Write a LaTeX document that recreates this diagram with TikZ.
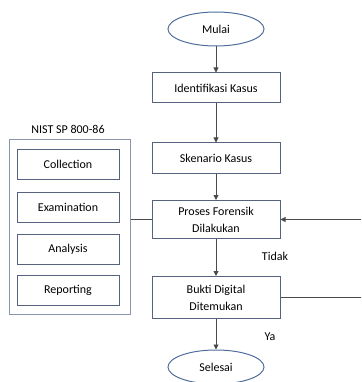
\documentclass[tikz,border=0pt]{standalone}
\usepackage{fontspec}
\setmainfont{Carlito}
\usetikzlibrary{arrows.meta,shapes.geometric}
\definecolor{boxline}{HTML}{56627E}
\definecolor{ovalline}{HTML}{4F6E9C}
\definecolor{groupline}{HTML}{8A95AD}
\definecolor{wire}{HTML}{4A4A4A}
\tikzset{
  txt/.style={font=\fontsize{12}{17}\selectfont},
  procbox/.style={txt, draw=boxline, line width=1pt, minimum width=128pt, minimum height=30pt, align=center, inner sep=1pt},
  stagebox/.style={txt, draw=boxline, line width=1pt, minimum width=102pt, minimum height=30pt},
  terminal/.style={txt, draw=ovalline, line width=1pt, ellipse, minimum width=96pt, minimum height=34pt, inner sep=1pt},
  flow/.style={draw=wire, line width=0.9pt, -{Triangle[length=5pt,width=5pt]}},
  link/.style={draw=wire, line width=0.9pt}
}
\begin{document}
\begin{tikzpicture}[x=1pt,y=-1pt]
\useasboundingbox (0,0) rectangle (361,382);
\clip (0,0) rectangle (361,382);
% main flow
\node[terminal] (mulai) at (216,29) {Mulai};
\node[procbox] (ident) at (216,88) {Identifikasi Kasus};
\node[procbox] (skenario) at (216,158) {Skenario Kasus};
\node[procbox, minimum height=38pt] (proses) at (216,219.5) {Proses Forensik\\Dilakukan};
\node[procbox, minimum height=42pt] (bukti) at (216,297.5) {Bukti Digital\\Ditemukan};
\node[terminal] (selesai) at (216,367) {Selesai};
% NIST SP 800-86 stages
\node[txt] (nisttitle) at (68,129) {NIST SP 800-86};
\node[draw=groupline, line width=1pt, minimum width=121pt, minimum height=174pt] (nist) at (69.5,227) {};
\node[stagebox] (collection) at (68,164) {Collection};
\node[stagebox] (examination) at (68,207) {Examination};
\node[stagebox] (analysis) at (68,249) {Analysis};
\node[stagebox] (reporting) at (68,290.5) {Reporting};
% connectors
\draw[flow] (mulai) -- (ident);
\draw[flow] (ident) -- (skenario);
\draw[flow] (skenario) -- (proses);
\draw[flow] (proses) -- (bukti);
\draw[flow] (bukti) -- (selesai);
\draw[link] (nist.east |- proses.west) -- (proses.west);
\coordinate (loopdown) at (370,297.5);
\coordinate (loopup) at (370,219.5);
\draw[link] (bukti.east) -- (loopdown) -- (loopup);
\draw[flow] (loopup) -- (proses.east);
\node[txt] (tidak) at (275,256) {Tidak};
\node[txt] (ya) at (270,337) {Ya};
\end{tikzpicture}
\end{document}
